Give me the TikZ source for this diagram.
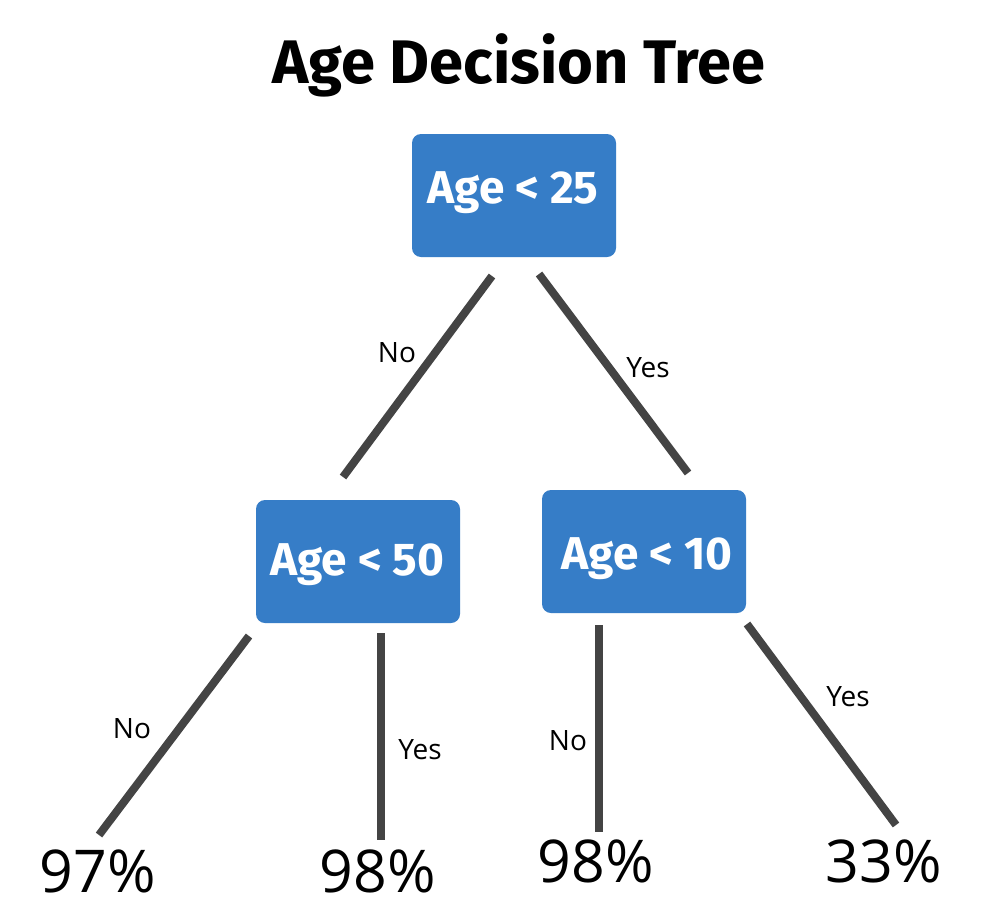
\documentclass[tikz,border=0pt]{standalone}
\usepackage{fontspec}
\setmainfont{Open Sans}
\newfontfamily\boxfont{Fira Sans}
\definecolor{boxblue}{RGB}{54,125,199}
\definecolor{linegray}{RGB}{68,68,68}
\begin{document}
\begin{tikzpicture}[x=1pt,y=-1pt,
  decbox/.style={fill=boxblue, rounded corners=9pt, minimum width=204pt, minimum height=123pt,
    inner sep=0pt},
  boxtext/.style={anchor=base, inner sep=0pt, text=white, font=\boxfont\bfseries\fontsize{46}{52}\selectfont},
  branch/.style={draw=linegray, line width=8pt},
  elabel/.style={anchor=base, font=\fontsize{28}{32}\selectfont, inner sep=0pt},
  leaf/.style={anchor=base, font=\fontsize{59}{66}\selectfont, inner sep=0pt},
  ttl/.style={anchor=base, font=\boxfont\bfseries\fontsize{61.5}{70}\selectfont, inner sep=0pt}]
\useasboundingbox[fill=white] (0,0) rectangle (982,918);

\node[ttl] (title) at (519,83) {Age Decision Tree};

\node[decbox] (b1) at (514,195.5) {};
\node[decbox] (b2) at (358,561.5) {};
\node[decbox] (b3) at (644,551.5) {};
\node[boxtext] (t1) at (513,203) {Age < 25};
\node[boxtext] (t2) at (357.5,575) {Age < 50};
\node[boxtext] (t3) at (647,569) {Age < 10};

\coordinate (l1s) at (492,276);
\coordinate (l1e) at (343,477);
\coordinate (r1s) at (539,274);
\coordinate (r1e) at (688,473);
\coordinate (l2s) at (249,636);
\coordinate (l2e) at (99,835);
\coordinate (v2s) at (381,633);
\coordinate (v2e) at (381,840);
\coordinate (v3s) at (599,625);
\coordinate (v3e) at (599,832);
\coordinate (r3s) at (747,624);
\coordinate (r3e) at (896,825);

\draw[branch] (l1s) -- (l1e);
\draw[branch] (r1s) -- (r1e);
\draw[branch] (l2s) -- (l2e);
\draw[branch] (v2s) -- (v2e);
\draw[branch] (v3s) -- (v3e);
\draw[branch] (r3s) -- (r3e);

\node[elabel] (n1) at (397,362) {No};
\node[elabel] (y1) at (648,377) {Yes};
\node[elabel] (n2) at (132,738) {No};
\node[elabel] (y2) at (420,759) {Yes};
\node[elabel] (n3) at (568,750) {No};
\node[elabel] (y3) at (848,706) {Yes};

\node[leaf] (p1) at (98,892) {97\%};
\node[leaf] (p2) at (378,892) {98\%};
\node[leaf] (p3) at (596,882) {98\%};
\node[leaf] (p4) at (884,882) {33\%};
\end{tikzpicture}
\end{document}
